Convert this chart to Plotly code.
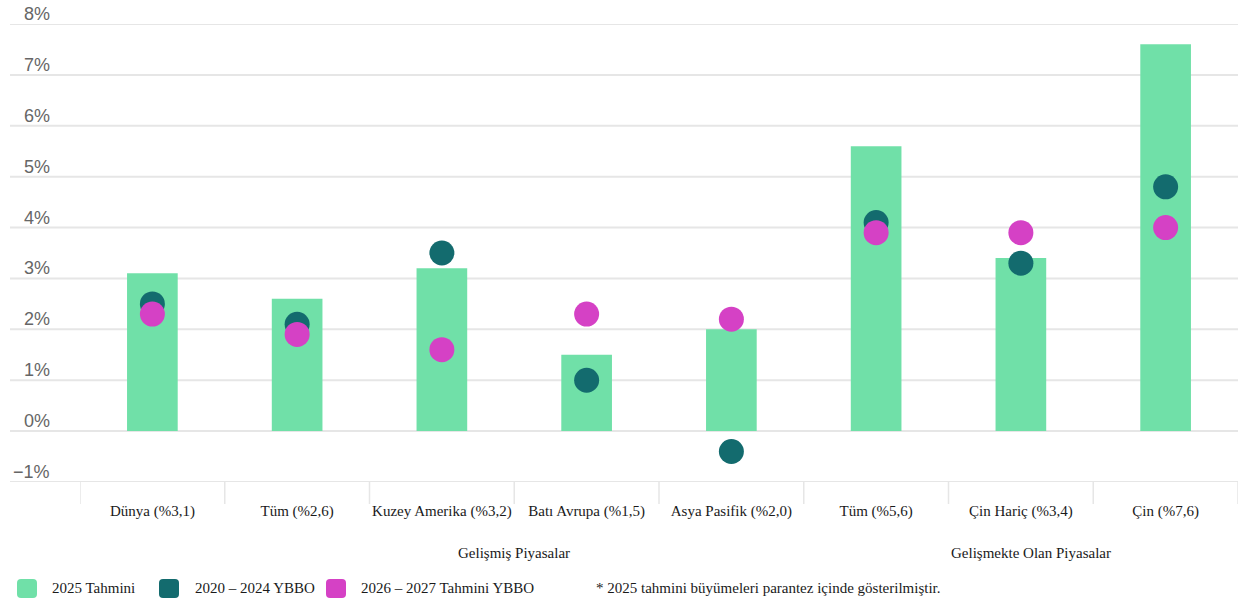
import plotly.graph_objects as go

categories = ["Dünya (%3,1)", "Tüm (%2,6)", "Kuzey Amerika (%3,2)", "Batı Avrupa (%1,5)",
              "Asya Pasifik (%2,0)", "Tüm (%5,6)", "Çin Hariç (%3,4)", "Çin (%7,6)"]
forecast_2025 = [3.1, 2.6, 3.2, 1.5, 2.0, 5.6, 3.4, 7.6]
cagr_2020_2024 = [2.5, 2.1, 3.5, 1.0, -0.4, 4.1, 3.3, 4.8]
cagr_2026_2027 = [2.3, 1.9, 1.6, 2.3, 2.2, 3.9, 3.9, 4.0]
tick_values = [-1, 0, 1, 2, 3, 4, 5, 6, 7, 8]
tick_labels = ["\u22121%", "0%", "1%", "2%", "3%", "4%", "5%", "6%", "7%", "8%"]
series_names = ["2025 Tahmini", "2020 – 2024 YBBO", "2026 – 2027 Tahmini YBBO"]
group_labels = ["Gelişmiş Piyasalar", "Gelişmekte Olan Piyasalar"]
footnote = "* 2025 tahmini büyümeleri parantez içinde gösterilmiştir."

GREEN = "#70E0A8"
TEAL = "#136B6E"
MAGENTA = "#D541C5"
GRID = "#E6E6E6"
TXT = "#1a1a1a"
SERIF = "Liberation Serif, Times New Roman"

W, H = 1248, 603
PL, PR, PT, PB = 80, 1238, 24, 482  # plot area in page pixels
L, R, T, B = PL, W - PR, PT, H - PB
PW = W - L - R
PH = H - T - B


def px(x):
    return (x - PL) / PW


def py(y):
    return (PB - y) / PH


fig = go.Figure()
fig.add_trace(go.Bar(x=categories, y=forecast_2025, name=series_names[0],
                     marker=dict(color=GREEN, line=dict(width=0)), width=0.35))
fig.add_trace(go.Scatter(x=categories, y=cagr_2020_2024, mode="markers", name=series_names[1],
                         marker=dict(color=TEAL, size=25, line=dict(width=0))))
fig.add_trace(go.Scatter(x=categories, y=cagr_2026_2027, mode="markers", name=series_names[2],
                         marker=dict(color=MAGENTA, size=25, line=dict(width=0))))

shapes = []
annotations = []
for v, lab in zip(tick_values, tick_labels):
    shapes.append(dict(type="line", xref="paper", yref="y", x0=px(10), x1=1, y0=v, y1=v,
                       line=dict(color=GRID, width=2), layer="below"))
    annotations.append(dict(xref="paper", yref="y", x=px(52), y=v, text=lab, showarrow=False,
                            xanchor="right", yanchor="bottom", yshift=-2,
                            font=dict(family="Liberation Sans, Arial", size=18, color="#666666")))
n = len(categories)
for i in range(n + 1):
    xv = i - 0.5
    shapes.append(dict(type="line", xref="x", yref="paper", x0=xv, x1=xv, y0=0, y1=py(504),
                       line=dict(color=GRID, width=1.5), layer="below"))

annotations.append(dict(xref="paper", yref="paper", x=px(514), y=py(553), text=group_labels[0],
                        showarrow=False, xanchor="center", yanchor="middle",
                        font=dict(family=SERIF, size=15, color=TXT)))
annotations.append(dict(xref="paper", yref="paper", x=px(1031), y=py(553), text=group_labels[1],
                        showarrow=False, xanchor="center", yanchor="middle",
                        font=dict(family=SERIF, size=15, color=TXT)))

legend_items = [(17, GREEN, series_names[0], 50), (159, TEAL, series_names[1], 193),
                (326, MAGENTA, series_names[2], 359)]
rr = "M 4,0 L 16,0 Q 20,0 20,4 L 20,15 Q 20,19 16,19 L 4,19 Q 0,19 0,15 L 0,4 Q 0,0 4,0 Z"
for x0, col, name, tx in legend_items:
    shapes.append(dict(type="path", xref="paper", yref="paper", xsizemode="pixel", ysizemode="pixel",
                       xanchor=px(x0), yanchor=py(598), path=rr,
                       fillcolor=col, line=dict(width=0)))
    annotations.append(dict(xref="paper", yref="paper", x=px(tx), y=py(588), text=name,
                            showarrow=False, xanchor="left", yanchor="middle",
                            font=dict(family=SERIF, size=15, color=TXT)))
annotations.append(dict(xref="paper", yref="paper", x=px(594), y=py(588), text=footnote,
                        showarrow=False, xanchor="left", yanchor="middle",
                        font=dict(family=SERIF, size=15, color=TXT)))

fig.update_layout(
    width=W, height=H,
    margin=dict(l=L, r=R, t=T, b=B, pad=0),
    paper_bgcolor="white", plot_bgcolor="white",
    showlegend=False,
    shapes=shapes, annotations=annotations,
    xaxis=dict(type="category", showgrid=False, zeroline=False, showline=False, ticks="",
               tickfont=dict(family=SERIF, size=15, color=TXT),
               ticklabelstandoff=18, range=[-0.5, n - 0.5]),
    yaxis=dict(range=[-1, 8], showgrid=False, zeroline=False, showline=False,
               showticklabels=False, ticks=""),
)

fig.write_html("out.html", config={"displayModeBar": False},
               post_script="document.body.style.margin='0';document.body.style.overflow='hidden';")
